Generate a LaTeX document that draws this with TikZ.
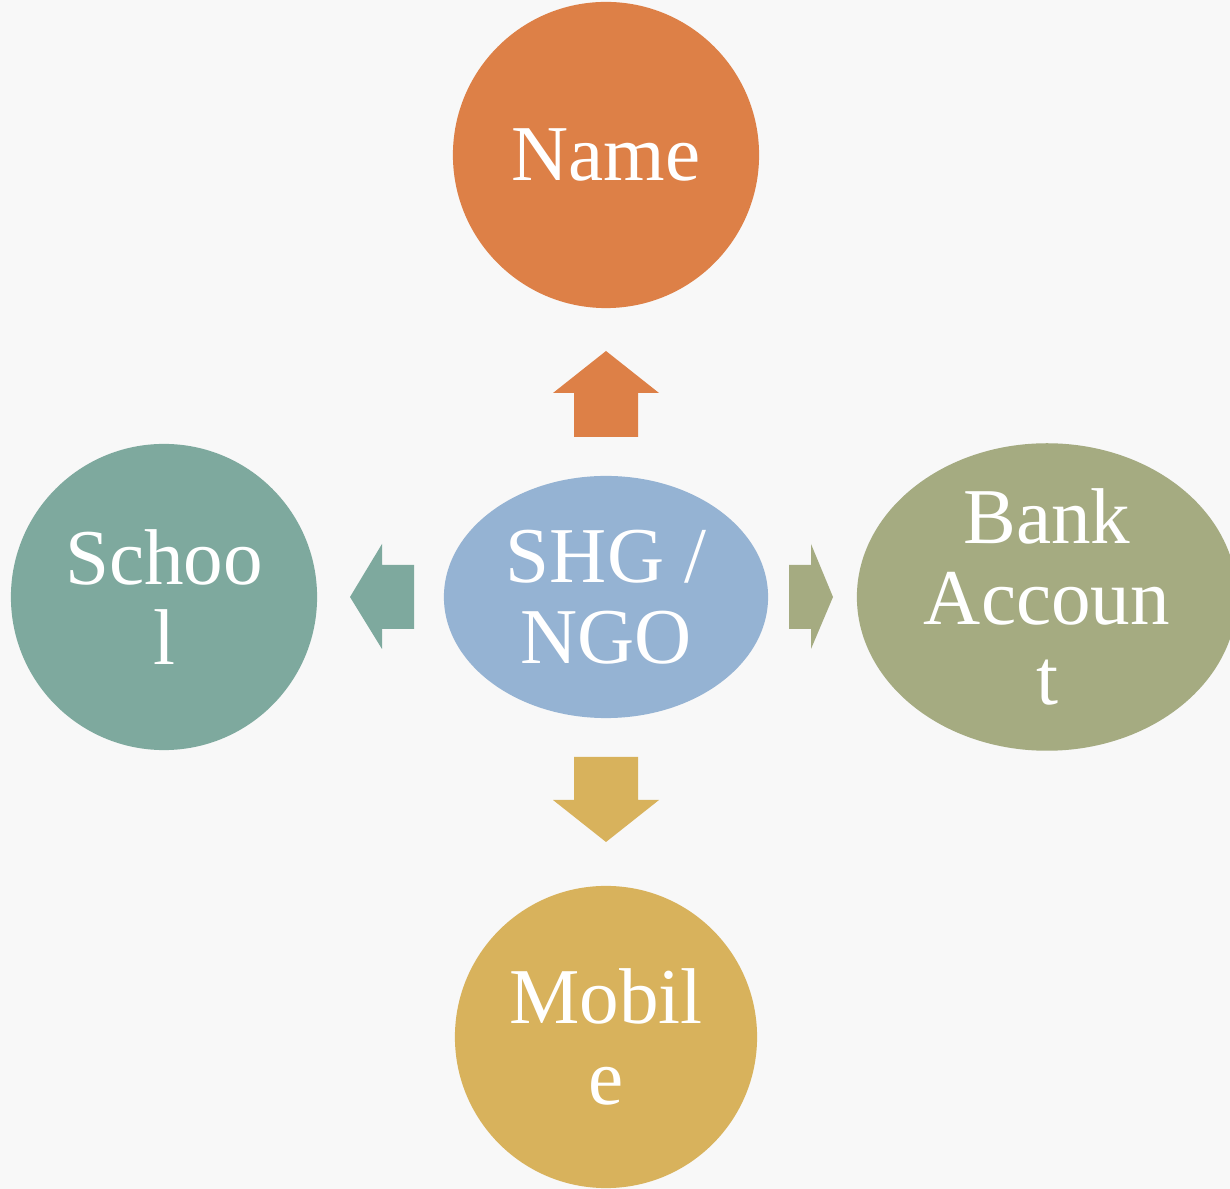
\documentclass[tikz,border=0pt]{standalone}
\usepackage{fontspec}
\setmainfont{Liberation Serif}
\usetikzlibrary{shapes.geometric, positioning}

\definecolor{namecol}{HTML}{DD8047}
\definecolor{hubcol}{HTML}{95B3D3}
\definecolor{schoolcol}{HTML}{7EA99E}
\definecolor{bankcol}{HTML}{A5AB81}
\definecolor{mobilecol}{HTML}{D8B25C}
\definecolor{pagecol}{HTML}{F8F8F8}

\begin{document}
\begin{tikzpicture}[
    x=0.01cm, y=-0.01cm,
    % Define standard styles for the diagram components
    bubble/.style={
        circle,
        inner sep=0pt,
        minimum size=3.06cm,
        align=center,
        text=white,
        font=\fontsize{22.5}{23}\selectfont
    },
    hubnode/.style={
        ellipse,
        inner sep=0pt,
        align=center,
        text=white,
        font=\fontsize{22.5}{23}\selectfont
    },
    blockarrow/.style={
        draw=none
    }
]

% --- Page ---
\fill[pagecol] (0,0) rectangle (1230,1189);
\clip (0,0) rectangle (1230,1189);

% --- Nodes ---

% Central hub
\node[hubnode, fill=hubcol, minimum width=3.24cm, minimum height=2.42cm] (hub) at (606,597) {SHG /\\NGO};

% Outer bubbles
\node[bubble, fill=namecol] (name) at (606,155) {Name};
\node[bubble, fill=schoolcol] (school) at (164,597) {Schoo\\l};
\node[hubnode, fill=bankcol, minimum width=3.80cm, minimum height=3.06cm] (bank) at (1047,597) {Bank\\Accoun\\t};
\node[bubble, fill=mobilecol, minimum size=3.02cm] (mobile) at (606,1037) {Mobil\\e};

% --- Block arrows ---
% up (to Name)
\fill[blockarrow, namecol] (574,437) -- (574,393) -- (553,393) -- (606,351)
    -- (659,393) -- (638,393) -- (638,437) -- cycle;
% left (to School)
\fill[blockarrow, schoolcol] (414,565) -- (382,565) -- (382,544) -- (350,597)
    -- (382,649) -- (382,629) -- (414,629) -- cycle;
% right (to Bank Account)
\fill[blockarrow, bankcol] (789,565) -- (811,565) -- (811,544) -- (833,597)
    -- (811,649) -- (811,629) -- (789,629) -- cycle;
% down (to Mobile)
\fill[blockarrow, mobilecol] (574,757) -- (574,800) -- (553,800) -- (606,842)
    -- (659,800) -- (638,800) -- (638,757) -- cycle;

\end{tikzpicture}
\end{document}
